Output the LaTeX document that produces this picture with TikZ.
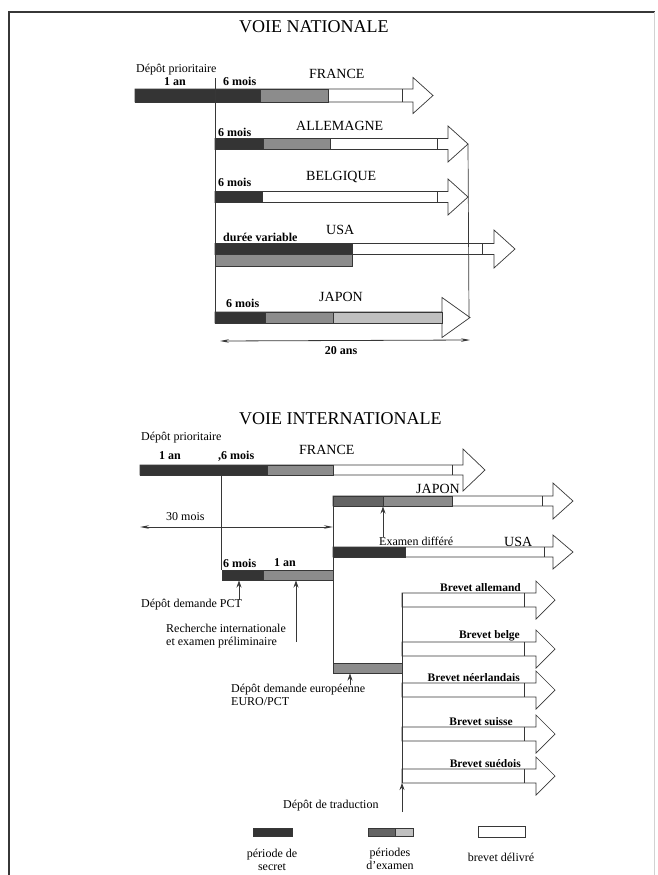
\documentclass[tikz,border=0pt]{standalone}
\usepackage{fontspec}
\setmainfont{Liberation Serif}
\usetikzlibrary{arrows.meta,positioning}
\definecolor{pxsecret}{RGB}{52,52,52}
\definecolor{pxexam}{RGB}{140,140,140}
\definecolor{pxexamdk}{RGB}{100,100,100}
\definecolor{pxexamlt}{RGB}{192,192,192}
\definecolor{pxline}{RGB}{55,55,55}

% #1 centre y, #2 half height, #3 start x, #4 divider x, #5 head base x, #6 tip x, #7 head half height
\newcommand{\patentarrow}[7]{%
  \draw[outline, fill=white] (#3,#1-#2) -- (#5,#1-#2) -- (#5,#1-#7) -- (#6,#1)
    -- (#5,#1+#7) -- (#5,#1+#2) -- (#3,#1+#2) -- cycle;
  \draw[outline] (#4,#1-#2) -- (#4,#1+#2);
}
% #1 x0, #2 x1, #3 y0, #4 y1, #5 colour
\newcommand{\periode}[5]{\draw[outline, fill=#5] (#1,#3) rectangle (#2,#4);}

\begin{document}
\begin{tikzpicture}[
  x=1pt, y=-1pt,
  every node/.style={inner sep=1pt},
  outline/.style={draw=pxline, line width=0.7pt},
  frame/.style={draw=pxline, line width=1.2pt},
  title/.style={font=\fontsize{18}{20}\selectfont, anchor=west},
  pays/.style={font=\fontsize{14}{16}\selectfont, anchor=west},
  lab/.style={font=\fontsize{12}{13}\selectfont, anchor=west, align=left},
  blab/.style={font=\fontsize{12}{13}\selectfont\bfseries, anchor=west},
  brev/.style={font=\fontsize{11.5}{13}\selectfont\bfseries, anchor=south east},
  arr/.style={-{Stealth[length=7pt, width=5pt]}, draw=pxline, line width=0.8pt},
  dim/.style={{Stealth[length=9pt, width=3.5pt]}-{Stealth[length=9pt, width=3.5pt]}, draw=pxline, line width=0.8pt}
]
  \useasboundingbox (0,0) rectangle (657,875);
  \draw[frame] (9,875) -- (9,12) -- (655,12);
  \draw[gray!35, line width=0.8pt] (654,12) -- (654,875);

  % voie nationale
  \node[title] (nattitle) at (238,27) {VOIE NATIONALE};
  \node[lab] (natprio) at (135,70) {Dépôt prioritaire};
  \node[blab] (natan) at (163,82) {1 an};
  \node[blab] (natfrmois) at (222,81) {6 mois};
  \node[pays] (natfr) at (308,74) {FRANCE};

  \patentarrow{95.5}{6.5}{135}{402}{413}{433}{18}
  \periode{135}{260}{89}{102}{pxsecret}
  \periode{260}{328}{89}{102}{pxexam}

  \node[blab] (natalmois) at (217,132) {6 mois};
  \node[pays] (natal) at (295,126) {ALLEMAGNE};
  \patentarrow{144}{5.5}{215}{437}{448}{468}{18}
  \periode{215}{263}{138.5}{149.5}{pxsecret}
  \periode{263}{330}{138.5}{149.5}{pxexam}

  \node[blab] (natbemois) at (217,182) {6 mois};
  \node[pays] (natbe) at (305,177) {BELGIQUE};
  \patentarrow{197}{5.5}{215}{437}{448}{468}{18}
  \periode{215}{262}{191.5}{202.5}{pxsecret}

  \node[blab] (natusvar) at (222,237) {durée variable};
  \node[pays] (natus) at (325,230) {USA};
  \patentarrow{249}{5.5}{215}{482}{494}{515}{19}
  \periode{215}{352}{243.5}{254.5}{pxsecret}
  \periode{215}{352}{254.5}{266}{pxexam}

  \node[blab] (natjpmois) at (225,303) {6 mois};
  \node[pays] (natjp) at (318,297) {JAPON};
  \patentarrow{317.5}{5.5}{215}{442}{442}{470}{20}
  \periode{215}{265}{312}{323}{pxsecret}
  \periode{265}{333}{312}{323}{pxexam}
  \periode{333}{442}{312}{323}{pxexamlt}

  \coordinate (nattick) at (215,78);
  \coordinate (natfoot) at (215,323);
  \coordinate (altip) at (468,144);
  \coordinate (jptip) at (469,317.5);
  \draw[outline] (nattick) -- (natfoot);
  \draw[outline] (altip) -- (jptip);

  \coordinate (vingtl) at (220,341);
  \coordinate (vingtr) at (470,340);
  \draw[dim] (vingtl) -- (vingtr);
  \node[blab, anchor=north] (vingt) at (341,345) {20 ans};

  % voie internationale
  \node[title] (inttitle) at (238,419) {VOIE INTERNATIONALE};
  \node[lab] (intprio) at (140,438) {Dépôt prioritaire};
  \node[blab] (intan) at (158,456) {1 an};
  \node[blab] (intfrmois) at (217,456) {,6 mois};
  \node[pays] (intfr) at (298,450) {FRANCE};

  \patentarrow{470}{5}{140}{452}{463}{485}{21}
  \periode{140}{267}{465}{475}{pxsecret}
  \periode{267}{333}{465}{475}{pxexam}

  \node[pays] (intjp) at (415,489) {JAPON};
  \patentarrow{501}{5}{333}{542}{553}{573}{18}
  \periode{333}{383}{496}{506}{pxexamdk}
  \periode{383}{452}{496}{506}{pxexam}

  \node[lab] (trente) at (165,517) {30 mois};
  \coordinate (trentel) at (140,527);
  \coordinate (trenter) at (333,527);
  \draw[dim] (trentel) -- (trenter);

  \node[lab] (examdiff) at (378,541) {Examen différé};
  \node[pays] (intus) at (503,542) {USA};
  \patentarrow{552}{5}{333}{544}{553}{573}{17}
  \periode{333}{405}{547}{557}{pxsecret}

  \node[blab] (pctmois) at (222,563) {6 mois};
  \node[blab] (pctan) at (273,563) {1 an};
  \periode{222}{263}{570}{580}{pxsecret}
  \periode{263}{333}{570}{580}{pxexam}
  \periode{333}{402}{663}{673}{pxexam}

  \coordinate (frdrop) at (221,475);
  \coordinate (pctleft) at (221,570);
  \coordinate (jpdrop) at (333,496);
  \coordinate (eurofoot) at (333,673);
  \draw[outline] (frdrop) -- (pctleft);
  \draw[outline] (jpdrop) -- (eurofoot);

  \node[lab] (pctlab) at (140,605) {Dépôt demande PCT};
  \node[lab] (recherche) at (165,636) {Recherche internationale\\et examen préliminaire};
  \node[lab] (eurolab) at (230,695) {Dépôt demande européenne\\EURO/PCT};

  \coordinate (exbase) at (383,537);
  \coordinate (exbar) at (383,506.5);
  \coordinate (pctbase) at (239,600);
  \coordinate (pctbar) at (239,580.5);
  \coordinate (rechbase) at (296,642);
  \coordinate (rechbar) at (296,580.5);
  \coordinate (eurobase) at (350,685);
  \coordinate (eurobar) at (350,673.5);
  \draw[arr] (exbase) -- (exbar);
  \draw[arr] (pctbase) -- (pctbar);
  \draw[arr] (rechbase) -- (rechbar);
  \draw[arr] (eurobase) -- (eurobar);

  \patentarrow{600}{7}{402}{524}{536}{555}{19}
  \patentarrow{649}{7}{402}{524}{536}{555}{19}
  \patentarrow{690}{7}{402}{524}{536}{555}{19}
  \patentarrow{734}{7}{402}{524}{536}{555}{19}
  \patentarrow{776}{7}{402}{524}{536}{555}{19}
  \node[brev] (bral) at (522,593) {Brevet allemand};
  \node[brev] (brbe) at (521,642) {Brevet belge};
  \node[brev] (brnl) at (521,683) {Brevet néerlandais};
  \node[brev] (brch) at (514,727) {Brevet suisse};
  \node[brev] (brse) at (522,769) {Brevet suédois};

  \coordinate (bustop) at (402,593);
  \coordinate (busfoot) at (402,783);
  \coordinate (tradbase) at (402,812);
  \draw[outline] (bustop) -- (busfoot);
  \draw[arr] (tradbase) -- (busfoot);
  \node[lab] (tradlab) at (282,806) {Dépôt de traduction};

  % legende
  \periode{253}{292}{828}{836}{pxsecret}
  \periode{368}{395}{828}{836}{pxexamdk}
  \periode{395}{413}{828}{836}{pxexamlt}
  \periode{478}{525}{826}{837}{white}
  \node[lab, anchor=center, align=center] (legsecret) at (272,860) {période de\\secret};
  \node[lab, anchor=center, align=center] (legexam) at (390,859) {périodes\\d'examen};
  \node[lab, anchor=center] (legbrevet) at (501,857) {brevet délivré};
\end{tikzpicture}
\end{document}
